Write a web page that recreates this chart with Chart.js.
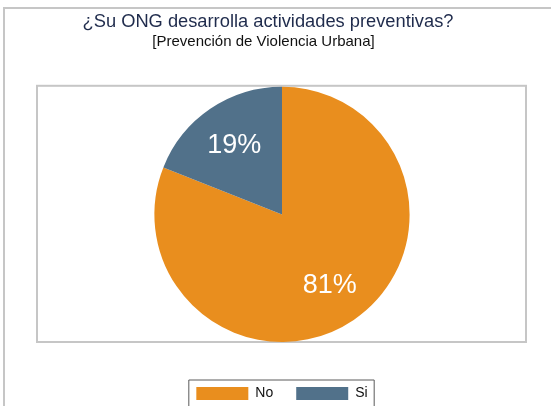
<!DOCTYPE html>
<html>
<head>
<meta charset="utf-8">
<script src="https://cdn.jsdelivr.net/npm/chart.js@4"></script>
<style>
html,body{margin:0;padding:0;background:#fff;}
#wrap{width:551px;height:406px;position:relative;}
</style>
</head>
<body>
<div id="wrap"><canvas id="c" width="551" height="406"></canvas></div>
<script>
const categories = ["No", "Si"];
const values = [81, 19];
const colors = ["#E98E1E", "#51718A"];
const titleText = "¿Su ONG desarrolla actividades preventivas?";
const subtitleText = "[Prevención de Violencia Urbana]";

const FONT = "Liberation Sans, Arial, sans-serif";

const framePlugin = {
  id: 'frame',
  beforeDraw(chart) {
    const ctx = chart.ctx;
    ctx.save();
    ctx.fillStyle = '#ffffff';
    ctx.fillRect(0, 0, chart.width, chart.height);
    ctx.strokeStyle = '#c6c6c6';
    ctx.lineWidth = 2;
    ctx.beginPath();
    ctx.moveTo(3, 8); ctx.lineTo(chart.width + 2, 8);
    ctx.moveTo(4, 7); ctx.lineTo(4, chart.height + 2);
    ctx.stroke();
    const a = chart.chartArea;
    ctx.strokeRect(a.left - 1, a.top - 1, a.right - a.left + 1, a.bottom - a.top + 1);
    // legend frame
    const lg = chart.legend;
    if (lg && lg.legendHitBoxes && lg.legendHitBoxes.length) {
      const hb = lg.legendHitBoxes;
      const first = hb[0], last = hb[hb.length - 1];
      const l = first.left - 7.5, t = first.top - 6.5;
      const r = last.left + last.width + 6.5;
      ctx.strokeStyle = '#5a5a5a';
      ctx.lineWidth = 1;
      ctx.beginPath();
      ctx.moveTo(l, chart.height + 5);
      ctx.lineTo(l, t); ctx.lineTo(r, t); ctx.lineTo(r, chart.height + 5);
      ctx.stroke();
    }
    ctx.restore();
  },
  afterLayout(chart) {
    chart.boxes.forEach(b => {
      if (b !== chart.legend && b.options && b.position === 'top') {
        if (b.options.text === titleText) { b.left -= 14; b.right -= 14; }
        else if (b.options.text === subtitleText) { b.left -= 18.5; b.right -= 18.5; }
      }
    });
  }
};

const labelPlugin = {
  id: 'pctLabels',
  afterDatasetsDraw(chart) {
    const ctx = chart.ctx;
    const meta = chart.getDatasetMeta(0);
    ctx.save();
    ctx.fillStyle = '#ffffff';
    ctx.font = '27px ' + FONT;
    ctx.textAlign = 'center';
    ctx.textBaseline = 'middle';
    meta.data.forEach((arc, i) => {
      const p = arc.getProps(['x', 'y', 'startAngle', 'endAngle', 'outerRadius'], true);
      const mid = (p.startAngle + p.endAngle) / 2;
      const r = p.outerRadius * 0.665;
      ctx.fillText(values[i] + '%', p.x + Math.cos(mid) * r, p.y + Math.sin(mid) * r + 1);
    });
    ctx.restore();
  }
};

new Chart(document.getElementById('c'), {
  type: 'pie',
  data: {
    labels: categories,
    datasets: [{
      data: values,
      backgroundColor: colors,
      borderWidth: 0,
      hoverOffset: 0
    }]
  },
  options: {
    responsive: false,
    animation: false,
    events: [],
    layout: { padding: { top: 0, left: 38, right: 25, bottom: -4.5 } },
    plugins: {
      title: {
        display: true,
        text: titleText,
        color: '#1F2B4C',
        font: { family: FONT, size: 18.3, weight: 'normal', lineHeight: 1.2 },
        padding: { top: 10.5, bottom: 0.14 }
      },
      subtitle: {
        display: true,
        text: subtitleText,
        color: '#111111',
        font: { family: FONT, size: 15, weight: 'normal', lineHeight: 1.2 },
        padding: { top: 0, bottom: 36.2 }
      },
      legend: {
        display: true,
        position: 'bottom',
        title: { display: true, text: ' ', font: { size: 1, lineHeight: 1 }, padding: { top: 20.5, bottom: 0 } },
        labels: {
          boxWidth: 52,
          boxHeight: 13,
          padding: 23,
          color: '#111111',
          font: { family: FONT, size: 14 }
        }
      },
      tooltip: { enabled: false }
    }
  },
  plugins: [framePlugin, labelPlugin]
});
</script>
</body>
</html>
